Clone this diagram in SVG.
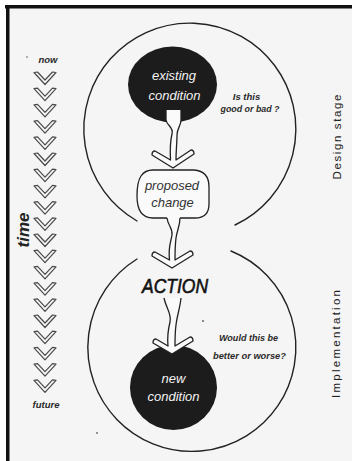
<svg xmlns="http://www.w3.org/2000/svg" width="352" height="461" viewBox="0 0 352 461">
<style>
.line{fill:none;stroke:#222;stroke-width:1.4;stroke-linecap:round}
.blk{fill:#1c1c1c}
.wt{font-family:"Liberation Sans",Arial,sans-serif;font-style:italic;font-size:13px;fill:#f2f2f2;text-anchor:middle}
.nt{font-family:"Liberation Sans",Arial,sans-serif;font-style:italic;font-size:13px;fill:#333;text-anchor:middle}
.q{font-family:"Liberation Sans",Arial,sans-serif;font-style:italic;font-weight:bold;font-size:9.5px;fill:#2a2a2a;text-anchor:middle}
.side{font-family:"Liberation Sans",Arial,sans-serif;font-size:11.5px;fill:#222;text-anchor:middle}
.arrow{fill:#fafafa;stroke:#222;stroke-width:1.3;stroke-linejoin:round}
.chev{fill:#f5f5f5;stroke:#4a4a4a;stroke-width:1.2;stroke-linejoin:round}
</style>
<defs>
<path id="chev" class="chev" d="M -11 0.5 L -7.5 0 L 0 8 L 7.5 0 L 11 0.5 L 0 12.5 Z"/>
</defs>
<rect x="0" y="0" width="352" height="461" fill="#ffffff"/>
<rect x="8" y="7" width="344" height="454" fill="#f5f5f5"/>
<g id="frame">
<rect x="5" y="5" width="347" height="3.5" fill="#111"/>
<rect x="6" y="5" width="3.5" height="456" fill="#111"/>
</g>
<g id="time-axis">
<circle cx="27" cy="57" r="0.8" fill="#555"/>
<text class="q" x="48" y="63" font-size="10">now</text>
<use href="#chev" x="45" y="72"/>
<use href="#chev" x="45" y="88.2"/>
<use href="#chev" x="45" y="104.4"/>
<use href="#chev" x="45" y="120.6"/>
<use href="#chev" x="45" y="136.8"/>
<use href="#chev" x="45" y="153"/>
<use href="#chev" x="45" y="169.2"/>
<use href="#chev" x="45" y="185.4"/>
<use href="#chev" x="45" y="201.6"/>
<use href="#chev" x="45" y="217.8"/>
<use href="#chev" x="45" y="234"/>
<use href="#chev" x="45" y="250.2"/>
<use href="#chev" x="45" y="266.4"/>
<use href="#chev" x="45" y="282.6"/>
<use href="#chev" x="45" y="298.8"/>
<use href="#chev" x="45" y="315"/>
<use href="#chev" x="45" y="331.2"/>
<use href="#chev" x="45" y="347.4"/>
<use href="#chev" x="45" y="363.6"/>
<use href="#chev" x="45" y="379.8"/>
<text class="q" x="46" y="408">future</text>
<text transform="translate(29,230) rotate(-90)" font-family="Liberation Sans, Arial, sans-serif" font-style="italic" font-weight="bold" font-size="17" fill="#222" text-anchor="middle">time</text>
</g>
<g id="design-stage">
<path class="line" d="M 137 221 A 106 106 0 1 1 235 225"/>
<text class="side" transform="translate(341,137) rotate(-90)" textLength="85" lengthAdjust="spacing">Design stage</text>
<text class="q" x="246.5" y="99.5">Is this</text>
<text class="q" x="250" y="111.5" textLength="59" lengthAdjust="spacingAndGlyphs">good or bad ?</text>
</g>
<g id="implementation">
<path class="line" d="M 231 251 A 104 104 0 1 1 137 259"/>
<text class="side" transform="translate(340,344) rotate(-90)" textLength="108" lengthAdjust="spacing">Implementation</text>
<text class="q" x="248.5" y="341" textLength="59" lengthAdjust="spacingAndGlyphs">Would this be</text>
<text class="q" x="249.5" y="359" textLength="73" lengthAdjust="spacingAndGlyphs">better or worse?</text>
<circle cx="203" cy="321" r="0.9" fill="#555"/>
<circle cx="97" cy="433" r="0.9" fill="#666"/>
</g>
<g id="node-existing">
<ellipse class="blk" cx="172.5" cy="84.5" rx="44.5" ry="38"/>
<text class="wt" x="174" y="79.5">existing</text>
<text class="wt" x="174.5" y="99.5">condition</text>
</g>
<g id="node-proposed">
<path fill="#fafafa" stroke="#222" stroke-width="1.3" stroke-linejoin="round" d="M 180 218 L 195 218 Q 209 218 209 204 L 209 187 Q 209 171 194 170 L 153 170 Q 145 170 141 176 Q 137 182 137 196 Q 137 218 153 218 L 167 218"/>
<text class="nt" x="172" y="189.5">proposed</text>
<text class="nt" x="172.5" y="206.5">change</text>
</g>
<g id="node-action">
<text x="175" y="293" font-family="Liberation Sans, Arial, sans-serif" font-style="italic" font-size="20" fill="#111" stroke="#111" stroke-width="0.6" text-anchor="middle" textLength="66" lengthAdjust="spacingAndGlyphs">ACTION</text>
</g>
<g id="node-new">
<ellipse class="blk" cx="173.5" cy="387.5" rx="43.5" ry="42.5"/>
<text class="wt" x="173.5" y="383">new</text>
<text class="wt" x="173.5" y="401">condition</text>
</g>
<g id="connectors">
<path class="arrow" d="M 166 110 L 166 120 C 167 126, 174 127, 172 134 C 170 142, 170 150, 170.5 160 L 155 151 Q 152 151 152 155 L 173 168 L 194 154 Q 194 150 191 150 L 176 160 C 176 150, 177 143, 177 135 C 177 128, 181 126, 181 120 L 181 110"/>
<path class="arrow" d="M 167 218 C 168 226, 173 228, 172 235 C 171 242, 168 246, 169.5 260 L 155 252 Q 152 252 152 256 L 172 268 L 193 255 Q 193 251 190 251 L 175 260 C 175 250, 175 246, 176 238 C 177 230, 180 226, 180 218"/>
<path class="arrow" d="M 164 298 C 166 308, 172 314, 170 322 C 168 330, 167 336, 168 346 L 156 339 Q 153 339 153 343 L 172 354 L 193 341 Q 193 337 190 337 L 175 346 C 175 338, 175 332, 176 325 C 177 316, 180 308, 181 298"/>
</g>
</svg>
